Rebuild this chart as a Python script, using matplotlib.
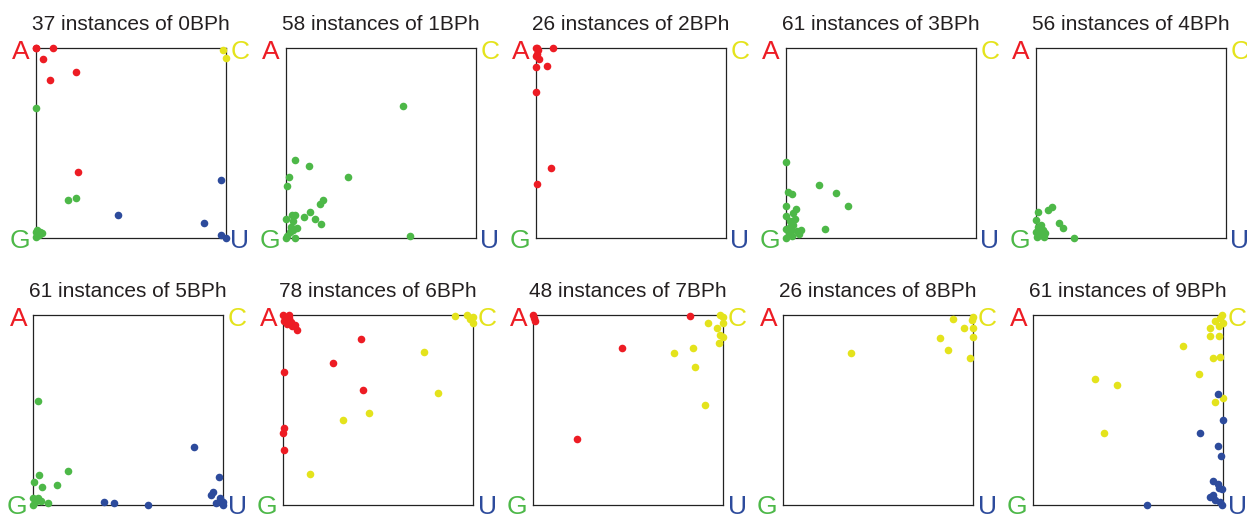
"""
barycentric-style corner plots of base-phosphate instances
"""

import matplotlib
matplotlib.use("Agg")
import matplotlib.pyplot as plt

plt.rcParams["font.family"] = ["Liberation Sans", "DejaVu Sans"]

# data: x 0 = A/G side, 1 = C/U side; y 0 = G/U, 1 = A/C
classes = ["0BPh", "1BPh", "2BPh", "3BPh", "4BPh",
           "5BPh", "6BPh", "7BPh", "8BPh", "9BPh"]
counts = [37, 58, 26, 61, 56, 61, 78, 48, 26, 61]

red_pts = [
    [(0.0, 1.0), (0.0, 1.0), (0.093, 1.0), (0.04, 0.94), (0.076, 0.83),
     (0.214, 0.874), (0.225, 0.346)],
    [],
    [(0.005, 1.0), (0.012, 0.99), (0.093, 1.0), (0.019, 0.942), (0.002, 0.956),
     (0.0, 0.898), (0.062, 0.904), (0.0, 0.768), (0.081, 0.368), (0.005, 0.286),
     (0.008, 0.97), (0.0, 1.0)],
    [], [], [],
    [(0.0, 1.0), (0.012, 0.99), (0.03, 0.985), (0.04, 0.965), (0.02, 0.955),
     (0.065, 0.945), (0.074, 0.919), (0.048, 0.94), (0.004, 0.97), (0.03, 1.0),
     (0.409, 0.874), (0.261, 0.749), (0.007, 0.7), (0.421, 0.604),
     (0.007, 0.404), (0.0, 0.377), (0.007, 0.289)],
    [(0.0, 1.0), (0.004, 0.985), (0.012, 0.968), (0.826, 0.995),
     (0.468, 0.828), (0.23, 0.347)],
    [], [],
]

yellow_pts = [
    [(0.984, 0.988), (1.0, 0.947)],
    [], [], [], [], [],
    [(0.905, 0.995), (0.968, 1.0), (1.0, 0.991), (1.0, 0.956), (0.985, 0.98),
     (0.744, 0.807), (0.814, 0.589), (0.451, 0.482), (0.314, 0.447),
     (0.144, 0.161)],
    [(0.986, 1.0), (1.0, 0.991), (1.0, 0.956), (0.923, 0.956), (0.97, 0.93),
     (1.0, 0.886), (0.986, 0.895), (0.979, 0.851), (0.842, 0.825),
     (0.744, 0.798), (0.851, 0.726), (0.907, 0.526)],
    [(0.358, 0.8), (0.895, 0.979), (0.954, 0.93), (1.0, 0.991), (0.995, 0.975),
     (1.0, 0.93), (1.0, 0.886), (0.828, 0.877), (0.867, 0.816), (0.982, 0.775)],
    [(0.996, 1.0), (0.982, 0.982), (0.956, 0.968), (1.0, 0.956), (0.979, 0.94),
     (0.933, 0.93), (0.93, 0.889), (0.979, 0.889), (0.789, 0.835),
     (0.946, 0.775), (0.982, 0.779), (0.874, 0.688), (0.325, 0.665),
     (0.442, 0.632), (1.0, 0.561), (0.956, 0.544), (0.374, 0.379)],
]

green_pts = [
    [(0.0, 0.684), (0.172, 0.198), (0.211, 0.21), (0.005, 0.044), (0.023, 0.03),
     (0.0, 0.005), (0.032, 0.027), (0.015, 0.018), (0.0, 0.03)],
    [(0.615, 0.696), (0.049, 0.411), (0.123, 0.377), (0.019, 0.323),
     (0.33, 0.323), (0.005, 0.274), (0.195, 0.2), (0.183, 0.181),
     (0.127, 0.137), (0.095, 0.111), (0.156, 0.102), (0.188, 0.074),
     (0.0, 0.102), (0.032, 0.119), (0.049, 0.119), (0.037, 0.088),
     (0.058, 0.053), (0.04, 0.044), (0.049, 0.0), (0.005, 0.009),
     (0.654, 0.012), (0.02, 0.03), (0.0, 0.0), (0.03, 0.06)],
    [],
    [(0.0, 0.398), (0.176, 0.277), (0.265, 0.235), (0.329, 0.168),
     (0.011, 0.24), (0.032, 0.23), (0.0, 0.168), (0.054, 0.151),
     (0.04, 0.13), (0.002, 0.118), (0.05, 0.1), (0.025, 0.09),
     (0.081, 0.044), (0.209, 0.046), (0.015, 0.026), (0.032, 0.01),
     (0.06, 0.035), (0.0, 0.0), (0.02, 0.06), (0.04, 0.07), (0.07, 0.02),
     (0.0, 0.05), (0.03, 0.04)],
    [(0.084, 0.163), (0.067, 0.149), (0.014, 0.137), (0.0, 0.093),
     (0.12, 0.079), (0.146, 0.051), (0.199, 0.002), (0.04, 0.044),
     (0.05, 0.026), (0.02, 0.018), (0.005, 0.005), (0.045, 0.005),
     (0.01, 0.06), (0.03, 0.07), (0.0, 0.03)],
    [(0.025, 0.546), (0.184, 0.179), (0.03, 0.156), (0.004, 0.121),
     (0.046, 0.096), (0.125, 0.104), (0.0, 0.035), (0.025, 0.035),
     (0.042, 0.023), (0.079, 0.009), (0.0, 0.0), (0.012, 0.018)],
    [], [], [], [],
]

blue_pts = [
    [(0.975, 0.307), (0.434, 0.119), (0.886, 0.077), (0.975, 0.018),
     (1.0, 0.0)],
    [], [], [], [],
    [(0.849, 0.307), (0.979, 0.146), (0.947, 0.067), (0.939, 0.053),
     (0.986, 0.035), (1.0, 0.018), (0.965, 0.009), (1.0, 0.0),
     (0.375, 0.018), (0.428, 0.011), (0.604, 0.0)],
    [], [], [],
    [(0.975, 0.586), (1.0, 0.449), (0.881, 0.379), (0.975, 0.31),
     (0.989, 0.258), (0.946, 0.128), (0.974, 0.109), (0.979, 0.088),
     (0.996, 0.082), (0.947, 0.053), (0.93, 0.044), (0.956, 0.026),
     (0.982, 0.018), (0.996, 0.0), (0.602, 0.0)],
]

RED = "#ed1c24"
YELLOW = "#e4e31c"
GREEN = "#4db848"
BLUE = "#2d4b9c"


def viz():
    W, H = 1247, 518
    fig = plt.figure(figsize=(W / 100, H / 100), dpi=100)
    box = 190
    for i in range(10):
        row, col = divmod(i, 5)
        left = (35.7 if row == 0 else 33.0) + 250 * col
        bottom = 238 if row == 0 else 505
        ax = fig.add_axes([left / W, 1 - bottom / H, box / W, box / H])
        ax.set_xlim(0, 1)
        ax.set_ylim(0, 1)
        ax.set_xticks([])
        ax.set_yticks([])
        for s in ax.spines.values():
            s.set_linewidth(0.9)
            s.set_color("#222222")

        for pts, c in [(red_pts[i], RED), (yellow_pts[i], YELLOW),
                       (green_pts[i], GREEN), (blue_pts[i], BLUE)]:
            if pts:
                xs = [p[0] for p in pts]
                ys = [p[1] for p in pts]
                ax.scatter(xs, ys, s=30, color=c, linewidths=0,
                           clip_on=False, zorder=3)

        ax.set_title(f"{counts[i]} instances of {classes[i]}",
                     fontsize=15, color="#231f20", pad=13)
        kw = dict(transform=ax.transAxes, fontsize=19,
                  va="center_baseline", clip_on=False)
        ax.text(-0.03, 0.99, "A", ha="right", color=RED, **kw)
        ax.text(1.025, 0.99, "C", ha="left", color=YELLOW, **kw)
        ax.text(-0.03, 0.0, "G", ha="right", color=GREEN, **kw)
        ax.text(1.025, 0.0, "U", ha="left", color=BLUE, **kw)

    fig.savefig("out.png", dpi=100)


if __name__ == "__main__":
    viz()
